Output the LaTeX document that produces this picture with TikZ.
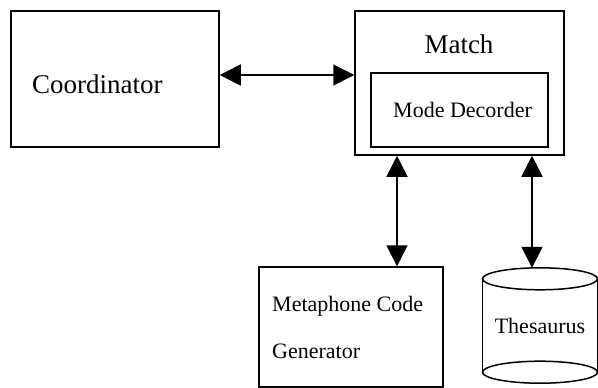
\documentclass[tikz,border=0pt]{standalone}
\usepackage{fontspec}
\setmainfont{Liberation Serif}
\usetikzlibrary{positioning, arrows.meta, calc}

\begin{document}
\begin{tikzpicture}[x=1pt, y=-1pt,
box/.style={rectangle, draw=black, line width=1.5pt, inner sep=0pt},
big/.style={font=\fontsize{27}{30}\selectfont, inner sep=0pt},
small/.style={font=\fontsize{22}{26}\selectfont, inner sep=0pt},
path/.style={{Triangle[length=21pt, width=21pt]}-{Triangle[length=21pt, width=21pt]}, line width=1.5pt},
]
\useasboundingbox (0,0) rectangle (598,388);

%Nodes
\node [box, minimum width=208, minimum height=136] (coord) at (115,79) {};
\node [big, anchor=base west] (coord_txt) at (32,93) {Coordinator};
\node [box, minimum width=209, minimum height=144] (match) at (459.5,83) {};
\node [big, anchor=base] (match_txt) at (459,53) {Match};
\node [box, minimum width=177, minimum height=74] (mode) at (459.5,110) {};
\node [small, anchor=base west] (mode_txt) at (393,117) {Mode Decorder};
\node [box, minimum width=184, minimum height=120] (gen) at (351,327) {};
\node [small, anchor=base west] (gen_txt1) at (272,311) {Metaphone Code};
\node [small, anchor=base west] (gen_txt2) at (272,358) {Generator};
\node [small, minimum width=115, minimum height=115] (thes) at (540,325.5) {Thesaurus};

% Cylinder
\draw [line width=1.5pt] ($(thes.north)+(0,11)$) ellipse [x radius=57.5, y radius=11];
\draw [line width=1.5pt] ($(thes.south)+(0,-11)$) ellipse [x radius=57.5, y radius=11];
\draw [line width=1.5pt] ($(thes.north west)+(0,11)$) -- ($(thes.south west)+(0,-11)$);
\draw [line width=1.5pt] ($(thes.north east)+(0,11)$) -- ($(thes.south east)+(0,-11)$);

% Paths
\coordinate (h) at (0,75);
\coordinate (v1) at (397,0);
\coordinate (v2) at (532,0);
\draw [path] (coord.east |- h) -- (match.west |- h);
\draw [path] (match.south -| v1) -- (gen.north -| v1);
\draw [path] (match.south -| v2) -- (thes.north -| v2);
\end{tikzpicture}
\end{document}
